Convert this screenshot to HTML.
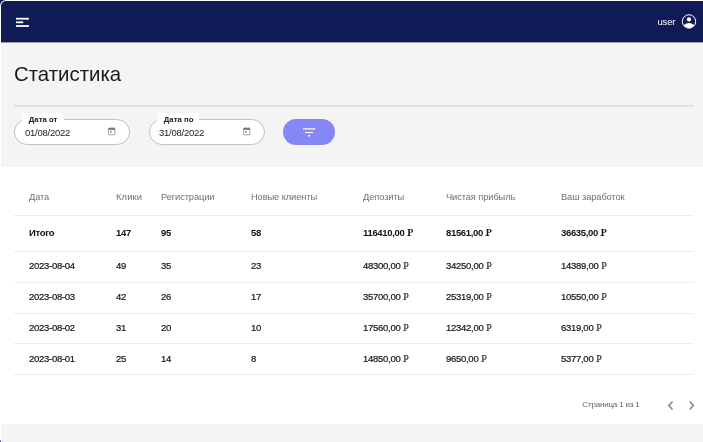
<!DOCTYPE html>
<html><head><meta charset="utf-8">
<style>
*{box-sizing:border-box;margin:0;padding:0}
html,body{width:703px;height:442px;overflow:hidden;background:#101a56;font-family:"Liberation Sans",sans-serif;}
#frame{position:absolute;left:0;top:0;width:703px;height:442px;background:#fff;border-top-left-radius:6px;border-bottom-left-radius:2.4px}
#root{position:absolute;left:1px;top:1px;width:702px;height:441px;background:#f4f4f4;overflow:hidden;border-top-left-radius:5px;will-change:transform}
#hdr{position:absolute;left:0;top:0;width:702px;height:42px;background:#101a56;border-bottom:1px solid #9c9ca6}
.bar{position:absolute;height:1.8px;background:#fff;left:15px}
#user{position:absolute;left:656.5px;top:14.8px;letter-spacing:-0.2px;font-size:9.5px;color:#fff;line-height:12px}
#title{position:absolute;left:13px;top:61px;font-size:20.4px;line-height:24px;color:#1b1b1b}
#hr{position:absolute;left:13px;top:104px;width:680px;height:2px;background:#e2e2e2}
.pill{position:absolute;top:118px;width:116px;height:26px;border:1px solid #c2c2c2;border-radius:14px;background:#fff}
.lbl{position:absolute;top:112px;height:12px;width:42px;background:#fff;font-size:7.8px;font-weight:bold;color:#222;line-height:12px;padding-left:6.8px;padding-top:1px}
.dt{position:absolute;top:125.6px;letter-spacing:-0.25px;font-size:9.5px;line-height:12px;color:#222}
.cal{position:absolute;top:126px;z-index:3}
#btn{position:absolute;left:282px;top:117.5px;width:52px;height:26.5px;border-radius:14px;background:#8687f7}
#card{position:absolute;left:0;top:166px;width:702px;height:257px;background:#fff}
#ci{position:absolute;left:0;top:-1px;width:702px;height:258px}
.line{position:absolute;left:13px;width:680px;height:1px;background:#ececec}
.row{position:absolute;left:0;width:702px;height:12px;letter-spacing:-0.28px;font-size:9.5px;line-height:12px;color:#141414;-webkit-text-stroke:0.2px #141414}
.row span{position:absolute;top:0;white-space:nowrap}
.h{color:#707070;-webkit-text-stroke:0;font-size:9.3px;margin-top:0.6px;letter-spacing:-0.1px}
.r{font-family:"Liberation Serif",serif;font-style:normal;position:relative;display:inline-block;font-size:10px;letter-spacing:0;color:#3a3a3a;margin-left:0.4px}
.b .r{color:#111}
.r::after{content:"";position:absolute;left:-0.5px;width:3.5px;height:1px;bottom:3px;background:currentColor;opacity:.45}
.b{-webkit-text-stroke:0;font-weight:bold;color:#111;letter-spacing:-0.33px}
.c1{left:28px}.c2{left:115px}.c3{left:160px}.c4{left:250px}.c5{left:362px}.c6{left:445px}.c7{left:560px}
#pg{position:absolute;left:581.3px;top:398px;letter-spacing:-0.18px;font-size:8px;line-height:12px;color:#666}
</style></head><body>
<div id="frame"></div>
<div id="root">
<div id="hdr">
<svg style="position:absolute;left:15px;top:16px" width="14" height="11" viewBox="0 0 14 11"><rect x="0" y="0.8" width="12.9" height="1.8" fill="#fff"/><rect x="0" y="4.4" width="7.2" height="1.8" fill="#fff"/><rect x="0" y="8.1" width="12.9" height="1.8" fill="#fff"/></svg>
<div id="user">user</div>
<svg style="position:absolute;left:680px;top:12px" width="16" height="17" viewBox="0 0 16 17"><g transform="translate(0,0.45)"><circle cx="8" cy="8" r="6.7" fill="none" stroke="#fff" stroke-width="1"/><circle cx="8" cy="6" r="2.1" fill="#fff"/><path d="M2.7 11.9 Q8 7.2 13.3 11.9 Q11 14.8 8 14.8 Q5 14.8 2.7 11.9Z" fill="#fff"/></g></svg>
</div>
<div id="title">Статистика</div>
<div id="hr"></div>
<div class="pill" style="left:13px"></div>
<div class="lbl" style="left:21px">Дата от</div>
<div class="dt" style="left:24px">01/08/2022</div>
<svg class="cal" style="left:107px" width="8" height="9" viewBox="0 0 8 9"><rect x="0.6" y="1.2" width="6.3" height="6.6" rx="0.6" fill="none" stroke="#777" stroke-width="0.7"/><rect x="0.6" y="1.2" width="6.3" height="1.6" fill="#666"/><rect x="1.9" y="0.4" width="0.7" height="1" fill="#777"/><rect x="4.9" y="0.4" width="0.7" height="1" fill="#777"/><rect x="2" y="4.2" width="1.8" height="1.3" fill="#777"/></svg>
<div class="pill" style="left:147.5px"></div>
<div class="lbl" style="left:156px">Дата по</div>
<div class="dt" style="left:158px">31/08/2022</div>
<svg class="cal" style="left:242px" width="8" height="9" viewBox="0 0 8 9"><rect x="0.6" y="1.2" width="6.3" height="6.6" rx="0.6" fill="none" stroke="#777" stroke-width="0.7"/><rect x="0.6" y="1.2" width="6.3" height="1.6" fill="#666"/><rect x="1.9" y="0.4" width="0.7" height="1" fill="#777"/><rect x="4.9" y="0.4" width="0.7" height="1" fill="#777"/><rect x="2" y="4.2" width="1.8" height="1.3" fill="#777"/></svg>
<div id="btn"><svg style="position:absolute;left:20px;top:9.4px" width="13" height="10" viewBox="0 0 13 10"><rect x="0" y="0.3" width="12.2" height="1.2" fill="#fff"/><rect x="2.1" y="3.9" width="8" height="1.2" fill="#fff"/><rect x="5.1" y="6.9" width="2" height="1.6" fill="#fff"/></svg></div>
<div id="card"><div id="ci">
<div class="row h" style="top:24px"><span class="c1">Дата</span><span class="c2" style="letter-spacing:0.15px">Клики</span><span class="c3">Регистрации</span><span class="c4">Новые клиенты</span><span class="c5">Депозиты</span><span class="c6">Чистая прибыль</span><span class="c7">Ваш заработок</span></div>
<div class="line" style="top:49px"></div>
<div class="row b" style="top:60.6px"><span class="c1">Итого</span><span class="c2">147</span><span class="c3">95</span><span class="c4">58</span><span class="c5">116410,00 <i class="r">P</i></span><span class="c6">81561,00 <i class="r">P</i></span><span class="c7">36635,00 <i class="r">P</i></span></div>
<div class="line" style="top:85px"></div>
<div class="row" style="top:94px"><span class="c1">2023-08-04</span><span class="c2">49</span><span class="c3">35</span><span class="c4">23</span><span class="c5">48300,00 <i class="r">P</i></span><span class="c6">34250,00 <i class="r">P</i></span><span class="c7">14389,00 <i class="r">P</i></span></div>
<div class="line" style="top:116px"></div>
<div class="row" style="top:125px"><span class="c1">2023-08-03</span><span class="c2">42</span><span class="c3">26</span><span class="c4">17</span><span class="c5">35700,00 <i class="r">P</i></span><span class="c6">25319,00 <i class="r">P</i></span><span class="c7">10550,00 <i class="r">P</i></span></div>
<div class="line" style="top:147px"></div>
<div class="row" style="top:155.7px"><span class="c1">2023-08-02</span><span class="c2">31</span><span class="c3">20</span><span class="c4">10</span><span class="c5">17560,00 <i class="r">P</i></span><span class="c6">12342,00 <i class="r">P</i></span><span class="c7">6319,00 <i class="r">P</i></span></div>
<div class="line" style="top:177px"></div>
<div class="row" style="top:186.7px"><span class="c1">2023-08-01</span><span class="c2">25</span><span class="c3">14</span><span class="c4">8</span><span class="c5">14850,00 <i class="r">P</i></span><span class="c6">9650,00 <i class="r">P</i></span><span class="c7">5377,00 <i class="r">P</i></span></div>
<div class="line" style="top:208px"></div>
</div></div>
<div id="pg">Страница 1 из 1</div>
<svg style="position:absolute;left:665px;top:399px" width="30" height="11" viewBox="0 0 30 11"><path d="M6.5 1.5 L2.8 5.5 L6.5 9.5" fill="none" stroke="#858585" stroke-width="1.5"/><path d="M23.7 1.5 L27.4 5.5 L23.7 9.5" fill="none" stroke="#858585" stroke-width="1.5"/></svg>
</div>
</body></html>
